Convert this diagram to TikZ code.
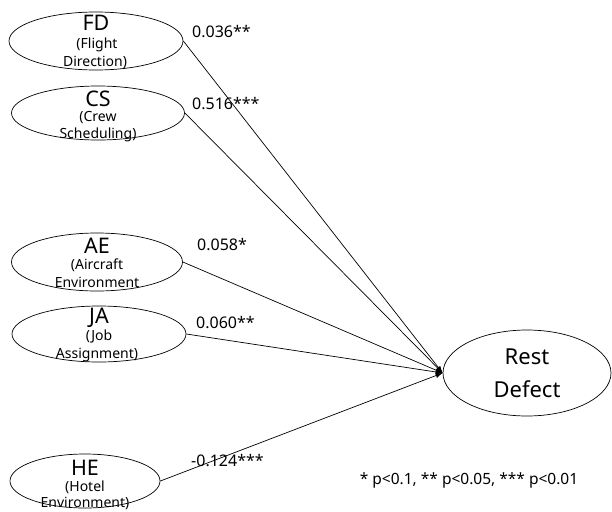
\documentclass[tikz,border=0pt]{standalone}
\usepackage{fontspec}
\setmainfont{Noto Sans}
\usetikzlibrary{arrows.meta,shapes.geometric}
\tikzset{
  latent/.style={draw, ellipse, line width=0.7pt, inner sep=0pt},
  abbr/.style={font=\fontsize{21.5}{21.5}\selectfont, inner sep=0pt},
  full/.style={font=\fontsize{14}{14}\selectfont, inner sep=0pt},
  coef/.style={font=\fontsize{16}{16}\selectfont, inner sep=0pt, anchor=west},
  path/.style={line width=0.7pt, -{Latex[length=7pt,width=5pt]}},
}
\begin{document}
\begin{tikzpicture}[x=1pt,y=-1pt]
\useasboundingbox (0,0) rectangle (612,511);
% exogenous ellipses
\node[latent, minimum width=174pt, minimum height=58pt] (FD) at (96,41) {};
\node[latent, minimum width=173pt, minimum height=54pt] (CS) at (98,113) {};
\node[latent, minimum width=171pt, minimum height=58pt] (AE) at (97,262) {};
\node[latent, minimum width=174pt, minimum height=56pt] (JA) at (99,334) {};
\node[latent, minimum width=150pt, minimum height=54pt] (HE) at (85,481) {};
\node[latent, minimum width=168pt, minimum height=86pt] (RD) at (527,373) {};
% texts
\node[abbr] (tFD) at (96,23) {FD};
\node[full] (tFD1) at (97,45) {(Flight};
\node[full] (tFD2) at (95,62) {Direction)};
\node[abbr] (tCS) at (98,99) {CS};
\node[full] (tCS1) at (98,118) {(Crew};
\node[full] (tCS2) at (98,135) {Scheduling)};
\node[abbr] (tAE) at (97,246) {AE};
\node[full] (tAE1) at (97,265) {(Aircraft};
\node[full] (tAE2) at (97,282) {Environment};
\node[abbr] (tJA) at (99,318) {JA};
\node[full] (tJA1) at (99,337) {(Job};
\node[full] (tJA2) at (97,355) {Assignment)};
\node[abbr] (tHE) at (85,468) {HE};
\node[full] (tHE1) at (85,487) {(Hotel};
\node[full] (tHE2) at (85,503) {Environment)};
\node[font=\fontsize{22}{22}\selectfont, inner sep=0pt] (tRD1) at (527,357) {Rest};
\node[font=\fontsize{22}{22}\selectfont, inner sep=0pt] (tRD2) at (527,389) {Defect};
% paths
\draw[path] (FD.east) -- (RD.west);
\draw[path] (CS.east) -- (RD.west);
\draw[path] (AE.east) -- (RD.west);
\draw[path] (JA.east) -- (RD.west);
\draw[path] (HE.east) -- (RD.west);
% coefficients
\node[coef] (cFD) at (192,32) {0.036**};
\node[coef] (cCS) at (192,104) {0.516***};
\node[coef] (cAE) at (197,245) {0.058*};
\node[coef] (cJA) at (196,323) {0.060**};
\node[coef] (cHE) at (191,461) {-0.124***};
\node[font=\fontsize{15.5}{15.5}\selectfont, inner sep=0pt] (note) at (469,480) {* p<0.1, ** p<0.05, *** p<0.01};
\end{tikzpicture}
\end{document}
